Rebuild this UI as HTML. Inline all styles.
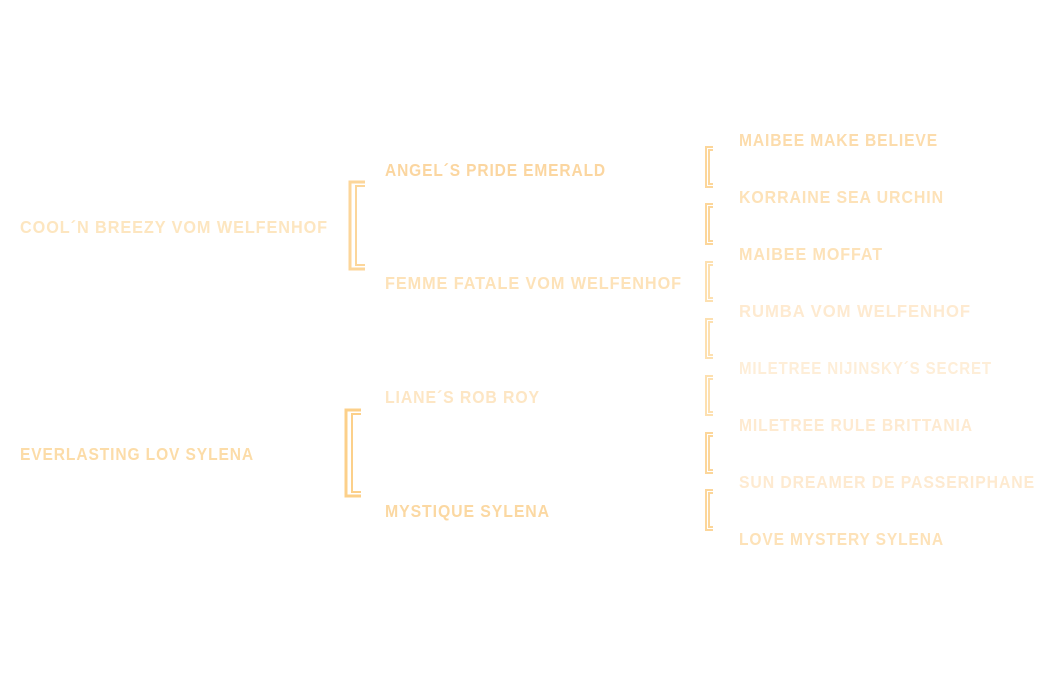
<!DOCTYPE html>
<html><head><meta charset="utf-8"><style>
html,body{margin:0;padding:0;background:#fff;width:1050px;height:678px;overflow:hidden}
text{font-family:"Liberation Sans",sans-serif;font-weight:bold;font-size:17.5px;letter-spacing:1px}
</style></head><body>
<svg width="1050" height="678" viewBox="0 0 1050 678" xmlns="http://www.w3.org/2000/svg">
<g fill="none">
<path d="M365 182 H350 V269 H365" stroke="#fcd69a" stroke-width="3"/>
<path d="M365 186 H356 V265 H365" stroke="#fcd69a" stroke-width="2"/>
<path d="M361 410 H346 V496 H361" stroke="#fcd08a" stroke-width="3"/>
<path d="M361 414 H352 V492 H361" stroke="#fcd08a" stroke-width="2"/>
<g stroke="#fcd69a" stroke-width="2">
<path d="M713 147 H706 V187 H713"/><path d="M713 150 H709 V184 H713"/>
<path d="M713 204 H706 V244 H713"/><path d="M713 207 H709 V241 H713"/>
</g>
<g stroke="#fde0b0" stroke-width="2">
<path d="M713 262 H706 V301 H713"/><path d="M713 265 H709 V298 H713"/>
<path d="M713 319 H706 V358 H713"/><path d="M713 322 H709 V355 H713"/>
<path d="M713 376 H706 V415 H713"/><path d="M713 379 H709 V412 H713"/>
</g>
<g stroke="#fcd69a" stroke-width="2">
<path d="M713 433 H706 V473 H713"/><path d="M713 436 H709 V470 H713"/>
<path d="M713 490 H706 V530 H713"/><path d="M713 493 H709 V527 H713"/>
</g>
</g>
<text x="20" y="233" textLength="308" lengthAdjust="spacingAndGlyphs" fill="#fde6c0">COOL´N BREEZY VOM WELFENHOF</text>
<text x="20" y="460" textLength="234" lengthAdjust="spacingAndGlyphs" fill="#fcdca8">EVERLASTING LOV SYLENA</text>
<text x="385" y="176" textLength="221" lengthAdjust="spacingAndGlyphs" fill="#fbd6a0">ANGEL´S PRIDE EMERALD</text>
<text x="385" y="289" textLength="297" lengthAdjust="spacingAndGlyphs" fill="#fde2b8">FEMME FATALE VOM WELFENHOF</text>
<text x="385" y="403" textLength="155" lengthAdjust="spacingAndGlyphs" fill="#fde6c4">LIANE´S ROB ROY</text>
<text x="385" y="517" textLength="165" lengthAdjust="spacingAndGlyphs" fill="#fbd8a2">MYSTIQUE SYLENA</text>
<text x="739" y="146" textLength="199" lengthAdjust="spacingAndGlyphs" fill="#fcdcac">MAIBEE MAKE BELIEVE</text>
<text x="739" y="203" textLength="205" lengthAdjust="spacingAndGlyphs" fill="#fde2b8">KORRAINE SEA URCHIN</text>
<text x="739" y="260" textLength="144" lengthAdjust="spacingAndGlyphs" fill="#fde2b8">MAIBEE MOFFAT</text>
<text x="739" y="317" textLength="232" lengthAdjust="spacingAndGlyphs" fill="#feead0">RUMBA VOM WELFENHOF</text>
<text x="739" y="374" textLength="253" lengthAdjust="spacingAndGlyphs" fill="#feeed8">MILETREE NIJINSKY´S SECRET</text>
<text x="739" y="431" textLength="234" lengthAdjust="spacingAndGlyphs" fill="#feead0">MILETREE RULE BRITTANIA</text>
<text x="739" y="488" textLength="296" lengthAdjust="spacingAndGlyphs" fill="#feead0">SUN DREAMER DE PASSERIPHANE</text>
<text x="739" y="545" textLength="205" lengthAdjust="spacingAndGlyphs" fill="#fde2b8">LOVE MYSTERY SYLENA</text>
</svg>
</body></html>
